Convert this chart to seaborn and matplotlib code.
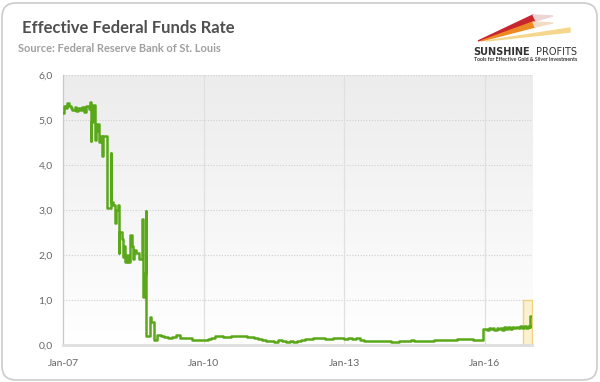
import matplotlib.pyplot as plt
from matplotlib.colors import LinearSegmentedColormap
from matplotlib.patches import FancyBboxPatch, Polygon
import numpy as np
import pandas as pd
import seaborn as sns

# 2007-2008, irregular points
crisis_dates = ['2007-01-01', '2007-01-10', '2007-01-25', '2007-02-05', '2007-02-15', '2007-03-01',
                '2007-03-15', '2007-04-01', '2007-04-15', '2007-05-01', '2007-05-15', '2007-06-01',
                '2007-06-15', '2007-07-01', '2007-07-20', '2007-08-01', '2007-08-05', '2007-08-10',
                '2007-08-25', '2007-09-05', '2007-09-15', '2007-09-25', '2007-10-10', '2007-10-25',
                '2007-11-01', '2007-11-05', '2007-12-12', '2008-01-08', '2008-01-10', '2008-01-25',
                '2008-02-12', '2008-02-15', '2008-03-07', '2008-03-10', '2008-03-15', '2008-04-01',
                '2008-04-10', '2008-04-15', '2008-04-22', '2008-05-01', '2008-05-10', '2008-05-25',
                '2008-06-05', '2008-06-20', '2008-07-01', '2008-07-10', '2008-07-25', '2008-08-15',
                '2008-09-10', '2008-09-12', '2008-09-20', '2008-10-08', '2008-10-12', '2008-11-10',
                '2008-11-14', '2008-12-12']
crisis_rate = [5.15, 5.30, 5.27, 5.38, 5.30, 5.26,
               5.22, 5.28, 5.20, 5.27, 5.22, 5.28,
               5.18, 5.30, 5.25, 5.40, 4.52, 4.95,
               5.32, 4.55, 4.75, 4.90, 4.50, 4.65,
               4.20, 4.65, 3.05, 4.27, 3.18, 3.12,
               2.70, 3.00, 3.10, 2.05, 2.50, 2.35,
               2.22, 1.95, 2.20, 1.85, 2.00, 1.85,
               2.45, 2.20, 1.90, 2.10, 2.05, 1.90,
               2.80, 1.07, 1.60, 2.97, 0.20, 0.62,
               0.52, 0.12]

# 2009-2015, monthly
rate_2009 = [0.22, 0.20, 0.18, 0.15, 0.18, 0.21, 0.16, 0.16, 0.15, 0.12, 0.12, 0.12]
rate_2010 = [0.10, 0.13, 0.16, 0.20, 0.20, 0.18, 0.18, 0.19, 0.19, 0.19, 0.19, 0.18]
rate_2011 = [0.17, 0.16, 0.14, 0.10, 0.09, 0.09, 0.07, 0.10, 0.08, 0.07, 0.08, 0.07]
rate_2012 = [0.08, 0.10, 0.13, 0.14, 0.16, 0.16, 0.16, 0.13, 0.14, 0.16, 0.16, 0.16]
rate_2013 = [0.14, 0.15, 0.14, 0.15, 0.11, 0.09, 0.09, 0.08, 0.08, 0.09, 0.08, 0.09]
rate_2014 = [0.07, 0.07, 0.08, 0.09, 0.09, 0.10, 0.09, 0.09, 0.09, 0.09, 0.09, 0.12]
rate_2015 = [0.11, 0.11, 0.11, 0.12, 0.12, 0.13, 0.13, 0.14, 0.14, 0.12, 0.12, 0.12]
# 2016, twice a month (month-end dips)
rate_2016 = [0.36, 0.33, 0.38, 0.35, 0.37, 0.33, 0.37, 0.35, 0.37, 0.34, 0.39, 0.36,
             0.39, 0.36, 0.40, 0.37, 0.40, 0.37, 0.41, 0.38, 0.41, 0.37, 0.41, 0.39]

# hikes in december 2015 / 2016
hike_dates = ['2015-12-17', '2016-12-15', '2016-12-22']
hike_rate = [0.36, 0.65, 0.65]

x_ticks = ['2007-01-01', '2010-01-01', '2013-01-01', '2016-01-01']
x_tick_labels = ['Jan-07', 'Jan-10', 'Jan-13', 'Jan-16']
y_ticks = [0, 1, 2, 3, 4, 5, 6]

# highlighted recent period
hl_start, hl_end, hl_top = '2016-10-28', '2017-01-05', 1.0

monthly = rate_2009 + rate_2010 + rate_2011 + rate_2012 + rate_2013 + rate_2014 + rate_2015
df = pd.concat([
    pd.DataFrame({'date': pd.to_datetime(crisis_dates), 'rate': crisis_rate}),
    pd.DataFrame({'date': pd.date_range('2009-01-01', periods=len(monthly), freq='MS'), 'rate': monthly}),
    pd.DataFrame({'date': pd.date_range('2016-01-01', periods=len(rate_2016), freq='SMS'), 'rate': rate_2016}),
    pd.DataFrame({'date': pd.to_datetime(hike_dates), 'rate': hike_rate}),
]).sort_values('date').reset_index(drop=True)
df = df[~((df.date > '2016-12-01') & (df.date < '2016-12-15'))]

sns.set_style('white')
plt.rcParams['font.family'] = ['Lato', 'DejaVu Sans']

fig = plt.figure(figsize=(6, 3.82), dpi=100)
ax = fig.add_axes([0.105, 0.097, 0.782, 0.707])

# gradient background
grad = np.linspace(0, 1, 256).reshape(-1, 1)
cmap = LinearSegmentedColormap.from_list('bg', ['#ececec', '#ffffff'])
ax.imshow(grad, extent=[0, 1, 0, 1], transform=ax.transAxes, aspect='auto',
          cmap=cmap, zorder=0)

ax.fill_between(pd.to_datetime([hl_start, hl_end]), 0, hl_top, color='#fcf1cf',
                edgecolor='#f2d27e', linewidth=1, zorder=2)

sns.lineplot(data=df, x='date', y='rate', ax=ax, color='#5aa81a', linewidth=1.8,
             drawstyle='steps-post', estimator=None, zorder=3)

ax.set_xlim(pd.Timestamp('2007-01-01'), pd.Timestamp('2017-01-04'))
ax.set_ylim(0, 6)
ax.set_xticks(pd.to_datetime(x_ticks))
ax.set_xticklabels(x_tick_labels)
ax.set_yticks(y_ticks)
ax.set_yticklabels([f'{v:.1f}'.replace('.', ',') for v in y_ticks])
ax.set_xlabel('')
ax.set_ylabel('')

for v in y_ticks[1:]:
    ax.axhline(v, color='#cfcfcf', linestyle=(0, (1, 1.5)), linewidth=0.8, zorder=1)
for d in x_ticks[1:]:
    ax.axvline(pd.Timestamp(d), color='#e0e0e0', linewidth=0.9, zorder=1)

for s in ['top', 'right']:
    ax.spines[s].set_visible(False)
ax.spines['left'].set_color('#c8c8c8')
ax.spines['left'].set_linewidth(0.9)
ax.spines['bottom'].set_color('#dedede')
ax.spines['bottom'].set_linewidth(2)
ax.tick_params(axis='both', colors='#c8c8c8', labelcolor='#666666', labelsize=7.5,
               length=4, width=0.8)
ax.tick_params(axis='x', pad=6)

# titles
fig.text(0.037, 0.927, 'Effective Federal Funds Rate', fontsize=12, fontweight='bold',
         color='#505050', va='center')
fig.text(0.03, 0.874, 'Source: Federal Reserve Bank of St. Louis', fontsize=7.9,
         fontweight='bold', color='#a0a0a0', va='center')

# logo
W, H = 600, 382
def fp(pts):
    return [(x / W, 1 - y / H) for x, y in pts]
swooshes = [
    ([(478, 41), (533, 15), (536, 21)], '#c8262e'),
    ([(533, 15), (553, 16), (536, 21)], '#eed5d5'),
    ([(481, 41), (533, 22), (535, 27)], '#ee8a22'),
    ([(533, 22), (553, 23), (535, 27)], '#f3dcc4'),
    ([(486, 41), (570, 28), (570, 32)], '#f4d68c'),
]
for pts, c in swooshes:
    fig.patches.append(Polygon(fp(pts), closed=True, color=c, transform=fig.transFigure))
fig.text(0.788, 1 - 52 / H, 'SUNSHINE', fontsize=7, fontweight='heavy', color='#333333',
         va='center', family=['DejaVu Sans'])
fig.text(0.893, 1 - 52 / H, 'PROFITS', fontsize=7, color='#333333', va='center',
         family=['DejaVu Sans'])
fig.text(0.79, 1 - 59.5 / H, 'Tools for Effective Gold & Silver Investments', fontsize=3.7,
         color='#333333', va='center', fontweight='bold')

# rounded frame
fig.patches.append(FancyBboxPatch((2, 2), 595, 377, boxstyle='round,pad=0,rounding_size=14',
                                  facecolor='none', edgecolor='#cccccc', linewidth=1.2,
                                  transform=None))

plt.savefig('out.png', dpi=100)
plt.close()
